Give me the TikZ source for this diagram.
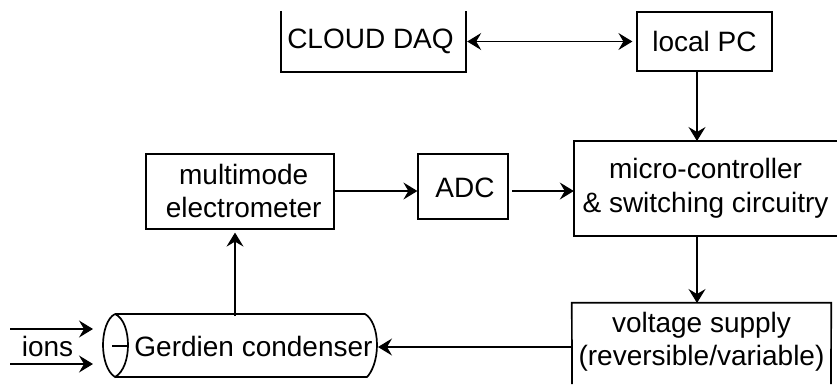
\documentclass[tikz,border=0pt]{standalone}
\usepackage{fontspec}
\setmainfont{Liberation Sans}
\usetikzlibrary{arrows.meta}
\tikzset{
 boxn/.style={draw=black,line width=1.2pt,fill=white,align=center,inner sep=0pt},
 lab/.style={align=center,inner sep=0pt,font=\fontsize{28}{33.5}\selectfont},
 openside/.style={draw=black,line width=1.7pt},
 conn/.style={line width=1.2pt,-{Stealth[length=14pt,width=17pt,inset=5pt]}},
 conn2/.style={line width=1.2pt,{Stealth[length=14pt,width=17pt,inset=5pt]}-{Stealth[length=14pt,width=17pt,inset=5pt]}}
}
\begin{document}
\begin{tikzpicture}[x=1pt,y=-1pt]
\useasboundingbox (0,0) rectangle (837,384);
\node[lab,minimum width=185pt,minimum height=61pt] (daq) at (373.5,41.5) {};
\path[openside] (daq.north west) -- (daq.south west) -- (daq.south east) -- (daq.north east);
\node[lab] (daqt) at (370.5,41) {CLOUD DAQ};
\node[boxn,minimum width=135pt,minimum height=59pt] (pc) at (704.5,41.5) {};
\node[lab] (pct) at (704.5,41) {local PC};
\node[lab,minimum width=263pt,minimum height=95pt] (mc) at (705.5,188.5) {micro-controller\\\& switching circuitry};
\path[openside] (mc.north east) -- (mc.north west) -- (mc.south west) -- (mc.south east);
\node[boxn,minimum width=90pt,minimum height=65pt] (adc) at (463,186.5) {};
\node[lab] (adct) at (465,187.5) {ADC};
\node[boxn,minimum width=188pt,minimum height=75pt] (em) at (240,191.5) {};
\node[lab] (emt) at (243.7,191) {multimode\\electrometer};
\node[lab,minimum width=259pt,minimum height=77pt] (vs) at (701.5,341.5) {voltage supply\\(reversible/variable)};
\coordinate (vsbl) at (572,384);
\coordinate (vsbr) at (831,384);
\path[openside] (vsbl) -- (vs.north west) -- (vs.north east) -- (vsbr);
\path[openside,fill=white] (115,314) -- (365,314) .. controls (372,318) and (377,330) .. (377,345) .. controls (377,360) and (372,372) .. (367,377) -- (115,377);
\path[openside] (115,314) .. controls (107,318) and (103,332) .. (103,345) .. controls (103,358) and (107,372) .. (115,377) .. controls (124,372) and (128,358) .. (128,345) .. controls (128,332) and (124,318) .. (115,314);
\coordinate (cylr) at (378,347);
\coordinate (ct) at (235,316);
\node[lab] (gc) at (253.5,346) {Gerdien condenser};
\node[lab] (ions) at (47.5,346) {ions};
\coordinate (i1) at (10,329);
\coordinate (i1e) at (93,329);
\coordinate (i2) at (10,364);
\coordinate (i2e) at (93,364);
\coordinate (m1) at (112,346);
\coordinate (m2) at (129,346);
\draw[line width=1.6pt] (m1) -- (m2);
\draw[conn2,shorten <=1pt,shorten >=4pt] (daq.east) -- (pc.west);
\draw[conn] (697,71) -- (697,141);
\draw[conn] (em.east |- 0,191) -- (adc.west |- 0,191);
\draw[conn] (512,191) -- (mc.west |- 0,191);
\draw[conn] (697,236) -- (697,303);
\draw[conn] (vs.west |- 0,347) -- (cylr);
\draw[conn,shorten >=3pt] (ct) -- (ct |- em.south);
\draw[conn] (i1) -- (i1e);
\draw[conn] (i2) -- (i2e);
\end{tikzpicture}
\end{document}
